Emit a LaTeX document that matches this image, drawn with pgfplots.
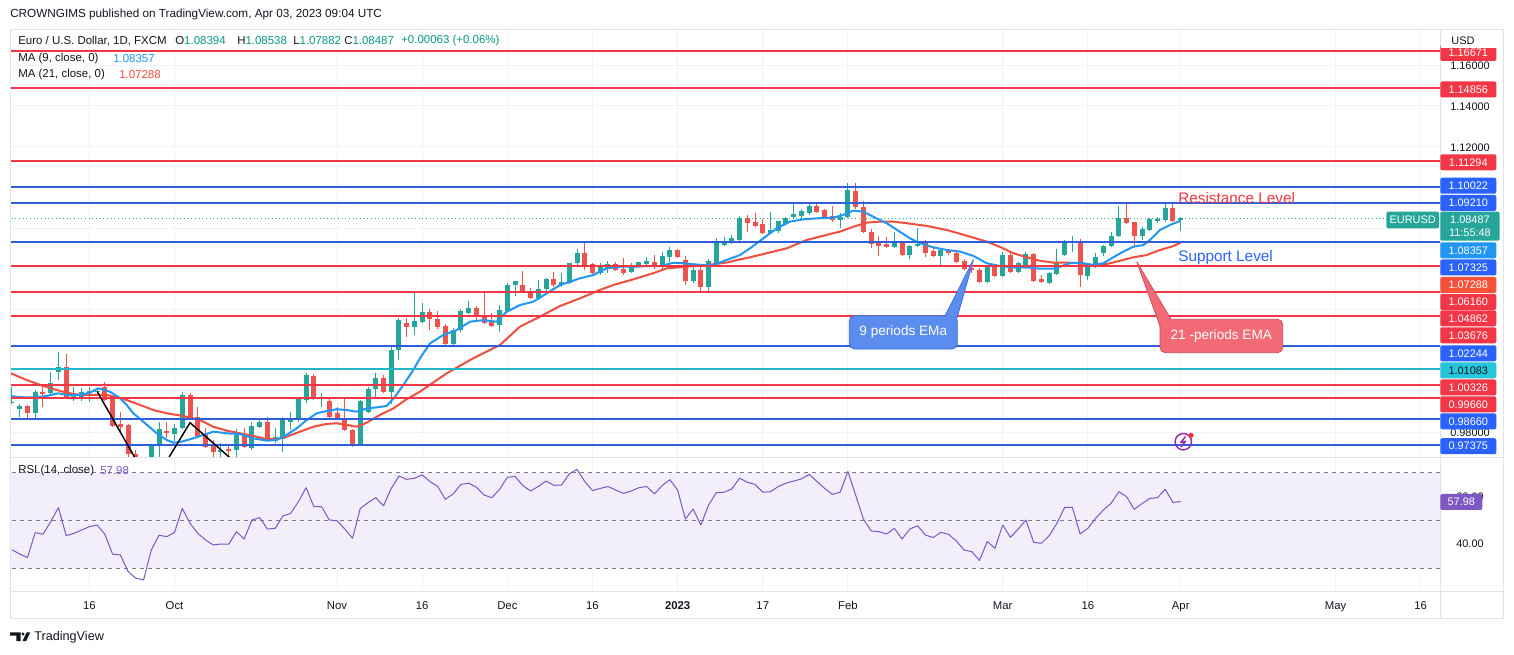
\documentclass[border=0pt]{standalone}
\usepackage{fontspec}
\setmainfont{Liberation Sans}
\usepackage{pgfplots}
\usepackage{pgfplotstable}
\pgfplotsset{compat=1.18}
\definecolor{tvgreen}{RGB}{38,166,154}
\definecolor{tvred}{RGB}{239,83,80}
\definecolor{lred}{RGB}{242,54,69}
\definecolor{lblue}{RGB}{47,95,215}
\definecolor{lcyan}{RGB}{34,184,200}
\definecolor{ma9}{RGB}{33,150,243}
\definecolor{ma21}{RGB}{242,78,62}
\definecolor{ma21box}{RGB}{244,81,56}
\definecolor{rsic}{RGB}{126,87,194}
\definecolor{rsiband}{RGB}{242,238,250}
\definecolor{gridc}{RGB}{240,243,250}
\definecolor{framec}{RGB}{224,227,235}
\definecolor{txt}{RGB}{19,23,34}
\definecolor{boxblue}{RGB}{41,98,255}
\definecolor{boxcyan}{RGB}{38,198,218}
\definecolor{tvteal}{RGB}{8,153,129}
\definecolor{calblue}{RGB}{91,141,239}
\definecolor{calbluebd}{RGB}{56,106,225}
\definecolor{calred}{RGB}{241,106,118}
\definecolor{calredbd}{RGB}{205,75,90}
\definecolor{dashc}{RGB}{120,123,134}
\definecolor{boltc}{RGB}{156,39,176}

\pgfplotstableread{
i o h l c
0 0.9941 1.0022 0.9938 0.9947
1 0.9913 0.9938 0.9875 0.9924
3 0.9895 1.0006 0.9867 0.9995
5 0.9991 1.0096 0.9982 1.0039
6 1.0096 1.0194 1.0055 1.0118
8 0.9962 1.0020 0.9954 0.9982
9 0.9974 1.0015 0.9954 0.9993
10 0.9991 1.0020 0.9945 1.0001
11 0.9994 1.0015 0.9986 0.9998
18 0.9593 0.9737 0.9536 0.9736
19 0.9736 0.9847 0.9650 0.9813
21 0.9790 0.9840 0.9755 0.9818
22 0.9818 0.9998 0.9813 0.9982
27 0.9700 0.9748 0.9670 0.9710
29 0.9711 0.9813 0.9650 0.9788
31 0.9721 0.9851 0.9712 0.9830
32 0.9826 0.9867 0.9818 0.9846
34 0.9761 0.9822 0.9745 0.9776
35 0.9767 0.9875 0.9704 0.9863
36 0.9849 0.9900 0.9810 0.9866
37 0.9859 0.9974 0.9851 0.9966
38 0.9957 1.0088 0.9941 1.0076
40 0.9961 0.9990 0.9925 0.9966
45 0.9737 0.9957 0.9733 0.9949
46 0.9900 1.0022 0.9892 1.0010
47 1.0010 1.0088 0.9966 1.0064
49 0.9998 1.0219 0.9938 1.0202
50 1.0202 1.0357 1.0153 1.0349
52 1.0317 1.0480 1.0276 1.0345
53 1.0341 1.0431 1.0333 1.0385
57 1.0232 1.0309 1.0225 1.0300
58 1.0300 1.0402 1.0292 1.0390
59 1.0386 1.0444 1.0383 1.0407
63 1.0325 1.0423 1.0292 1.0399
64 1.0395 1.0533 1.0390 1.0521
65 1.0521 1.0540 1.0467 1.0537
68 1.0456 1.0546 1.0448 1.0500
69 1.0500 1.0554 1.0489 1.0549
71 1.0521 1.0578 1.0513 1.0532
72 1.0529 1.0631 1.0526 1.0628
73 1.0628 1.0696 1.0611 1.0677
76 1.0578 1.0631 1.0571 1.0606
77 1.0599 1.0641 1.0578 1.0620
80 1.0583 1.0631 1.0578 1.0611
81 1.0611 1.0636 1.0608 1.0631
82 1.0624 1.0660 1.0620 1.0636
84 1.0611 1.0685 1.0602 1.0660
85 1.0657 1.0706 1.0636 1.0693
88 1.0540 1.0620 1.0530 1.0595
90 1.0513 1.0647 1.0489 1.0636
91 1.0627 1.0750 1.0620 1.0728
92 1.0716 1.0758 1.0712 1.0734
93 1.0729 1.0767 1.0725 1.0750
94 1.0742 1.0860 1.0734 1.0848
98 1.0775 1.0880 1.0771 1.0791
99 1.0787 1.0836 1.0775 1.0832
100 1.0820 1.0856 1.0816 1.0848
101 1.0856 1.0922 1.0848 1.0865
102 1.0859 1.0892 1.0840 1.0881
103 1.0873 1.0922 1.0865 1.0909
107 1.0839 1.0873 1.0799 1.0852
108 1.0853 1.1023 1.0848 1.0984
114 1.0706 1.0783 1.0701 1.0734
116 1.0669 1.0718 1.0647 1.0712
117 1.0712 1.0799 1.0706 1.0722
120 1.0664 1.0693 1.0615 1.0690
126 1.0537 1.0614 1.0529 1.0608
128 1.0565 1.0685 1.0559 1.0664
130 1.0587 1.0636 1.0578 1.0628
131 1.0620 1.0685 1.0602 1.0673
134 1.0532 1.0587 1.0529 1.0578
135 1.0575 1.0696 1.0571 1.0631
136 1.0669 1.0742 1.0664 1.0729
137 1.0729 1.0761 1.0681 1.0736
139 1.0565 1.0614 1.0546 1.0608
140 1.0608 1.0680 1.0603 1.0657
141 1.0677 1.0718 1.0664 1.0712
142 1.0712 1.0783 1.0709 1.0761
143 1.0761 1.0909 1.0758 1.0848
146 1.0761 1.0804 1.0742 1.0794
147 1.0791 1.0848 1.0788 1.0843
148 1.0836 1.0856 1.0824 1.0843
149 1.0840 1.0919 1.0832 1.0897
151 1.08394 1.08538 1.07882 1.08487
}\greentab

\pgfplotstableread{
i o h l c
2 0.9924 0.9933 0.9863 0.9895
4 0.9995 1.0020 0.9924 0.9987
7 1.0118 1.0183 0.9960 0.9966
12 1.0020 1.0047 0.9952 0.9957
13 0.9966 0.9974 0.9826 0.9831
14 0.9838 0.9900 0.9802 0.9826
15 0.9831 0.9840 0.9670 0.9690
16 0.9690 0.9710 0.9535 0.9607
17 0.9607 0.9670 0.9590 0.9593
20 0.9805 0.9851 0.9770 0.9794
23 0.9982 0.9990 0.9867 0.9873
24 0.9873 0.9921 0.9776 0.9781
25 0.9786 0.9818 0.9720 0.9728
26 0.9737 0.9760 0.9670 0.9700
28 0.9716 0.9741 0.9670 0.9706
30 0.9788 0.9821 0.9723 0.9728
33 0.9846 0.9875 0.9757 0.9761
39 1.0071 1.0085 0.9957 0.9961
41 0.9950 0.9960 0.9867 0.9873
42 0.9892 0.9924 0.9859 0.9867
43 0.9867 0.9970 0.9806 0.9810
44 0.9810 0.9813 0.9728 0.9733
48 1.0064 1.0080 0.9990 0.9998
51 1.0333 1.0357 1.0267 1.0317
54 1.0385 1.0402 1.0300 1.0353
55 1.0353 1.0395 1.0305 1.0314
56 1.0320 1.0330 1.0222 1.0232
60 1.0407 1.0418 1.0349 1.0374
61 1.0365 1.0488 1.0330 1.0333
62 1.0341 1.0385 1.0317 1.0320
66 1.0521 1.0591 1.0480 1.0484
67 1.0484 1.0505 1.0451 1.0456
70 1.0549 1.0587 1.0513 1.0521
74 1.0677 1.0729 1.0595 1.0620
75 1.0622 1.0631 1.0575 1.0578
78 1.0620 1.0636 1.0591 1.0595
79 1.0598 1.0652 1.0571 1.0578
83 1.0631 1.0668 1.0602 1.0608
86 1.0690 1.0696 1.0652 1.0657
87 1.0640 1.0664 1.0521 1.0540
89 1.0595 1.0617 1.0489 1.0513
95 1.0848 1.0865 1.0783 1.0824
96 1.0827 1.0873 1.0804 1.0811
97 1.0816 1.0843 1.0771 1.0775
104 1.0909 1.0922 1.0876 1.0881
105 1.0886 1.0892 1.0848 1.0856
106 1.0859 1.0909 1.0832 1.0840
109 1.0979 1.1023 1.0892 1.0902
110 1.0902 1.0935 1.0778 1.0783
111 1.0778 1.0794 1.0701 1.0722
112 1.0728 1.0761 1.0664 1.0712
113 1.0718 1.0758 1.0701 1.0706
115 1.0729 1.0734 1.0664 1.0669
118 1.0734 1.0742 1.0657 1.0680
119 1.0685 1.0712 1.0657 1.0664
121 1.0685 1.0693 1.0669 1.0677
122 1.0677 1.0693 1.0631 1.0636
123 1.0636 1.0647 1.0595 1.0598
124 1.0603 1.0620 1.0578 1.0595
125 1.0591 1.0603 1.0532 1.0537
127 1.0611 1.0620 1.0559 1.0565
129 1.0664 1.0685 1.0578 1.0587
132 1.0673 1.0677 1.0537 1.0542
133 1.0549 1.0571 1.0529 1.0537
138 1.0733 1.0745 1.0513 1.0568
144 1.0848 1.0919 1.0820 1.0824
145 1.0827 1.0832 1.0712 1.0760
150 1.0897 1.0919 1.0832 1.0836
}\redtab

\pgfplotstableread{
x y
-0.26 0.9977
1.03 0.9971
2.75 0.9970
4.48 0.9977
5.98 0.9990
7.07 0.9982
8.79 0.9982
10.08 0.9993
11.15 1.0015
12.66 0.9998
13.95 0.9966
14.82 0.9933
15.67 0.9892
16.96 0.9851
18.70 0.9794
19.99 0.9761
20.84 0.9748
21.92 0.9753
23.42 0.9769
24.72 0.9786
26.01 0.9802
27.74 0.9794
29.46 0.9790
31.18 0.9769
32.91 0.9758
34.20 0.9761
35.49 0.9786
36.78 0.9818
38.07 0.9859
39.37 0.9892
40.66 0.9903
41.95 0.9912
43.24 0.9908
44.53 0.9900
45.83 0.9916
47.12 0.9921
48.41 0.9928
49.48 0.9973
50.56 1.0031
51.85 1.0104
52.71 1.0162
54.01 1.0235
55.72 1.0276
57.45 1.0300
59.17 1.0341
60.89 1.0349
62.62 1.0341
63.91 1.0390
65.63 1.0423
67.35 1.0439
69.08 1.0480
70.80 1.0521
72.09 1.0537
73.39 1.0554
75.10 1.0570
76.83 1.0603
78.55 1.0611
80.27 1.0611
82.00 1.0614
83.72 1.0614
85.44 1.0630
86.73 1.0628
88.02 1.0623
89.32 1.0619
90.61 1.0619
92.34 1.0644
94.06 1.0668
95.35 1.0701
97.07 1.0750
98.80 1.0799
100.52 1.0832
102.24 1.0843
103.97 1.0848
106.11 1.0851
107.40 1.0865
108.70 1.0886
109.99 1.0881
111.28 1.0856
113.01 1.0824
114.73 1.0782
116.02 1.0750
117.31 1.0726
119.03 1.0706
120.76 1.0693
122.48 1.0685
124.20 1.0664
125.93 1.0628
127.65 1.0614
129.37 1.0608
131.10 1.0608
132.82 1.0601
134.53 1.0601
135.40 1.0611
136.69 1.0628
137.98 1.0631
139.70 1.0619
141.00 1.0628
142.29 1.0657
143.58 1.0685
144.87 1.0709
146.16 1.0717
147.03 1.0742
148.32 1.0791
149.61 1.0816
151.00 1.0836
}\manine

\pgfplotstableread{
x y
-0.26 1.0090
1.90 1.0055
4.04 1.0026
5.78 1.0006
7.07 0.9993
8.79 0.9982
10.50 0.9982
12.24 0.9982
13.53 0.9970
14.82 0.9957
16.54 0.9933
18.26 0.9908
19.99 0.9892
21.28 0.9884
22.57 0.9875
24.29 0.9859
26.01 0.9826
27.74 0.9807
29.46 0.9794
31.18 0.9781
32.91 0.9765
34.20 0.9765
35.49 0.9777
37.21 0.9802
38.93 0.9826
40.66 0.9840
41.95 0.9843
43.24 0.9835
44.53 0.9826
45.83 0.9846
47.55 0.9884
49.26 0.9916
50.99 0.9961
52.71 0.9998
56.16 1.0088
59.60 1.0162
63.05 1.0227
65.63 1.0317
68.22 1.0366
70.80 1.0418
73.39 1.0456
75.97 1.0497
77.69 1.0521
80.27 1.0549
82.86 1.0579
84.59 1.0603
87.17 1.0611
89.75 1.0619
92.34 1.0631
94.06 1.0647
95.35 1.0657
97.51 1.0677
100.09 1.0701
102.67 1.0742
105.26 1.0767
106.98 1.0783
108.70 1.0807
110.43 1.0827
112.14 1.0832
113.86 1.0832
115.59 1.0824
118.18 1.0811
120.76 1.0791
123.35 1.0763
125.93 1.0734
127.65 1.0708
129.37 1.0677
131.10 1.0657
132.82 1.0640
134.53 1.0631
136.26 1.0631
137.98 1.0628
139.70 1.0619
141.43 1.0624
143.15 1.0640
144.87 1.0657
146.60 1.0668
148.32 1.0693
150.04 1.0712
151.00 1.0729
}\matwentyone

\pgfplotstableread{
i r
0 37.6
1 35.9
2 34.4
3 44.9
4 44.2
5 49.5
6 55.4
7 43.6
8 44.6
9 46.0
10 47.4
11 48.1
12 44.2
13 35.8
14 35.5
15 28.5
16 25.7
17 25.0
18 37.6
19 43.8
20 43.2
21 45.0
22 55.1
23 48.8
24 44.6
25 41.8
26 39.7
27 40.1
28 40.0
29 45.3
30 42.2
31 50.2
32 51.2
33 46.4
34 46.7
35 51.9
36 53.0
37 57.9
38 63.8
39 55.8
40 55.8
41 50.2
42 49.9
43 46.4
44 42.5
45 55.1
46 57.5
47 59.6
48 56.2
49 63.5
50 68.7
51 67.3
52 67.8
53 69.2
54 66.4
55 64.3
56 58.9
57 61.2
58 65.2
59 65.7
60 64.0
61 60.7
62 59.6
63 63.1
64 68.2
65 68.5
66 64.7
67 62.4
68 64.3
69 66.6
70 64.8
71 64.9
72 69.6
73 71.5
74 66.4
75 62.6
76 63.5
77 64.3
78 62.8
79 61.4
80 62.4
81 63.8
82 64.3
83 61.2
84 64.7
85 67.2
86 62.8
87 50.6
88 54.8
89 48.1
90 56.5
91 61.7
92 61.9
93 63.3
94 67.8
95 66.1
96 65.2
97 61.9
98 62.1
99 64.3
100 65.7
101 66.6
102 67.5
103 69.4
104 66.4
105 63.5
106 61.0
107 61.9
108 70.6
109 60.7
110 50.6
111 45.6
112 45.3
113 44.3
114 46.7
115 42.2
116 46.4
117 47.8
118 43.9
119 42.8
120 45.0
121 44.2
122 41.4
123 37.6
124 36.9
125 33.2
126 41.1
127 38.3
128 48.1
129 42.9
130 46.4
131 50.2
132 40.8
133 40.4
134 43.6
135 48.8
136 55.5
137 55.5
138 44.3
139 46.7
140 50.9
141 54.4
142 57.2
143 62.1
144 60.0
145 54.7
146 57.1
147 59.3
148 59.6
149 63.1
150 57.6
151 57.98
}\rsitab

\pgfplotsset{
  tvbase/.style={anchor=north west, scale only axis, width=1072.5pt,
    xmin=-0.258, xmax=184.5,
    axis line style={draw=none}, tick style={draw=none}, major tick length=0pt,
    xtick={10,21,42,53,64,75,86,97,108,128,139,151,171,182}},
  candle/.style={only marks, mark options={draw=none, fill=none}, mark size=0pt, forget plot},
}
\newcommand\plab[4]{\node[fill=#3, text=#4, rounded corners=1.5pt, inner sep=0pt,
  minimum width=42pt, minimum height=12pt, anchor=west,
  font=\fontsize{8.2}{9}\selectfont] at (1440,#1) {#2};}
\newcommand\stxt[2]{\node[text=txt, inner sep=0pt, font=\fontsize{8.2}{9}\selectfont] at (1470,#1) {#2};}

\begin{document}
\begin{tikzpicture}
\useasboundingbox (0,0) rectangle (1135.5pt,-491.25pt);
\fill[white] (0,0) rectangle (1135.5pt,-491.25pt);

% ---------------- price panel ----------------
\begin{axis}[tvbase, at={(7.5pt,-22.5pt)}, height=320.25pt,
  ymin=0.96777, ymax=1.17717,
  ytick={0.98,1.00,1.02,1.04,1.06,1.08,1.10,1.12,1.14,1.16},
  xticklabels={}, yticklabels={},
  xmajorgrids, ymajorgrids, grid style={draw=gridc, line width=0.75pt}]
% wicks
\addplot[candle,
  error bars/.cd, y dir=both, y explicit, error mark=none,
  error bar style={draw=tvgreen, line width=0.75pt}]
  table[x=i, y=o, y error plus expr=\thisrow{h}-\thisrow{o}, y error minus expr=\thisrow{o}-\thisrow{l}] {\greentab};
\addplot[candle,
  error bars/.cd, y dir=both, y explicit, error mark=none,
  error bar style={draw=tvred, line width=0.75pt}]
  table[x=i, y=o, y error plus expr=\thisrow{h}-\thisrow{o}, y error minus expr=\thisrow{o}-\thisrow{l}] {\redtab};
% bodies
\addplot[candle,
  error bars/.cd, y dir=plus, y explicit, error mark=none,
  error bar style={draw=tvgreen, line width=3.75pt}]
  table[x=i, y=o, y error plus expr=\thisrow{c}-\thisrow{o}+0.0002] {\greentab};
\addplot[candle,
  error bars/.cd, y dir=plus, y explicit, error mark=none,
  error bar style={draw=tvred, line width=3.75pt}]
  table[x=i, y=c, y error plus expr=\thisrow{o}-\thisrow{c}+0.0002] {\redtab};
% moving averages
\addplot[ma21, line width=1.5pt, mark=none, line join=round] table[x=x, y=y] {\matwentyone};
\addplot[ma9, line width=1.5pt, mark=none, line join=round] table[x=x, y=y] {\manine};
% horizontal levels
\pgfplotsinvokeforeach{1.16671,1.14856,1.11294,1.06160,1.04862,1.03676,1.00326,0.99660}{
  \addplot[lred, line width=1.5pt, mark=none] coordinates {(-1,#1) (190,#1)};}
\pgfplotsinvokeforeach{1.10022,1.09210,1.07325,1.02244,0.98660,0.97375}{
  \addplot[lblue, line width=1.5pt, mark=none] coordinates {(-1,#1) (190,#1)};}
\addplot[lcyan, line width=1.5pt, mark=none] coordinates {(-1,1.01083) (190,1.01083)};
% last price line
\addplot[tvgreen, line width=0.75pt, dash pattern=on 0.75pt off 2pt, mark=none] coordinates {(-1,1.08487) (190,1.08487)};
% drawn zig-zag
\addplot[black, line width=1.1pt, mark=none] coordinates {(11.02,0.9998) (18,0.9533) (23,0.9846) (29,0.9646)};
\end{axis}

% ---------------- RSI panel ----------------
\begin{axis}[tvbase, at={(7.5pt,-343.5pt)}, height=100.5pt,
  ymin=19.9, ymax=76.3, ytick=\empty,
  xticklabels={16,Oct,Nov,16,Dec,16,\textbf{2023},17,Feb,Mar,16,Apr,May,16},
  xticklabel style={font=\fontsize{8.5}{10}\selectfont, text=txt, inner sep=0pt,
    anchor=north, yshift=-6.7pt, text height=6.2pt, text depth=0pt}]
\addplot[draw=none, fill=rsiband, forget plot] coordinates {(-1,30) (190,30) (190,70) (-1,70)};
\pgfplotsinvokeforeach{10,21,42,53,64,75,86,97,108,128,139,151,171,182}{
  \addplot[gridc, line width=0.75pt, mark=none, forget plot] coordinates {(#1,0) (#1,100)};}
\addplot[gridc, line width=0.75pt, mark=none] coordinates {(-1,40) (190,40)};
\addplot[gridc, line width=0.75pt, mark=none] coordinates {(-1,60) (190,60)};
\pgfplotsinvokeforeach{30,50,70}{
  \addplot[dashc, line width=0.75pt, dash pattern=on 3pt off 3pt, mark=none] coordinates {(-1,#1) (190,#1)};}
\addplot[rsic, line width=0.75pt, mark=none, line join=round] table[x=i, y=r] {\rsitab};
\end{axis}

% ---------------- overlay (pixel coordinates) ----------------
\begin{scope}[x=0.75pt, y=-0.75pt]
\draw[framec, line width=0.75pt] (10,30) rectangle (1503,618);
\draw[framec, line width=0.75pt] (1440,30) -- (1440,618);
\draw[framec, line width=0.75pt] (10,457.5) -- (1503,457.5);
\draw[framec, line width=0.75pt] (10,592) -- (1503,592);

% header
\node[anchor=west, inner sep=0pt, text=txt, font=\fontsize{8.8}{11}\selectfont] at (10,14)
  {CROWNGIMS published on TradingView.com, Apr 03, 2023 09:04 UTC};

% legend
\begin{scope}[every node/.style={anchor=west, inner sep=0pt, text=txt, font=\fontsize{8.6}{11}\selectfont}]
\node at (18,41) {Euro / U.S. Dollar, 1D, FXCM};
\node at (175,41) {O\textcolor{tvteal}{1.08394}};
\node at (237,41) {H\textcolor{tvteal}{1.08538}};
\node at (293,41) {L\textcolor{tvteal}{1.07882}};
\node at (344,41) {C\textcolor{tvteal}{1.08487}};
\node at (401,41) {\textcolor{tvteal}{+0.00063 (+0.06\%)}};
\node at (18,59) {MA (9, close, 0)};
\node at (113,59) {\textcolor{ma9}{1.08357}};
\node at (18,75) {MA (21, close, 0)};
\node at (119,75) {\textcolor{ma21}{1.07288}};
\node at (18,471) {RSI (14, close)};
\node at (100,471) {\textcolor{rsic}{57.98}};
\end{scope}

% price scale
\stxt{432.7}{0.98000}
\plab{53}{1.16671}{lred}{white}
\fill[white] (1440.5,30.5) rectangle (1502.5,48.5);
\node[text=txt, inner sep=0pt, font=\fontsize{8.2}{9}\selectfont] at (1463,41) {USD};
\stxt{65.5}{1.16000}
\stxt{107}{1.14000}
\stxt{147.3}{1.12000}
\plab{89.5}{1.14856}{lred}{white}
\plab{162.3}{1.11294}{lred}{white}
\plab{185.7}{1.10022}{boxblue}{white}
\plab{203}{1.09210}{boxblue}{white}
\node[fill=tvgreen, text=white, rounded corners=1.5pt, inner sep=0pt, minimum width=44.5pt,
  minimum height=21.75pt, anchor=west, align=center, font=\fontsize{8.2}{9.6}\selectfont]
  at (1440,226.2) {1.08487\\11:55:48};
\plab{250.3}{1.08357}{ma9}{white}
\plab{267.5}{1.07325}{boxblue}{white}
\plab{285}{1.07288}{ma21box}{white}
\plab{302}{1.06160}{lred}{white}
\plab{318.3}{1.04862}{lred}{white}
\plab{335.3}{1.03676}{lred}{white}
\plab{353.3}{1.02244}{boxblue}{white}
\plab{370.3}{1.01083}{boxcyan}{txt}
\plab{387.5}{1.00326}{lred}{white}
\plab{404.3}{0.99660}{lred}{white}
\plab{421.3}{0.98660}{boxblue}{white}
\plab{446.2}{0.97375}{boxblue}{white}
\node[fill=tvgreen, text=white, rounded corners=1.5pt, inner sep=0pt, minimum width=39.5pt,
  minimum height=12.5pt, anchor=east, font=\fontsize{8.2}{9}\selectfont] at (1439.3,220) {EURUSD};

% RSI scale
\stxt{497}{60.00}
\node[fill=rsic, text=white, rounded corners=1.5pt, inner sep=0pt, minimum width=31.5pt,
  minimum height=12pt, anchor=west, font=\fontsize{8.2}{9}\selectfont] at (1440,502) {57.98};
\stxt{544}{40.00}

% annotations
\node[anchor=west, inner sep=0pt, text=lred, font=\fontsize{11.5}{13}\selectfont] at (1178,198) {Resistance Level};
\node[anchor=west, inner sep=0pt, text=boxblue, font=\fontsize{11.5}{13}\selectfont] at (1178,258) {Support Level};

\draw[fill=calblue, draw=calbluebd, line width=0.6pt] (944,318) -- (973.5,259.5) -- (957,318);
\draw[fill=calblue, draw=calbluebd, line width=0.6pt, rounded corners=4pt] (849.3,315.7) rectangle (957.3,349);
\fill[calblue] (945.5,317.2) -- (972.5,262) -- (955.8,317.2) -- cycle;
\node[text=white, inner sep=0pt, font=\fontsize{10.2}{12}\selectfont] at (903.3,332.3) {9 periods EMa};

\draw[fill=calred, draw=calredbd, line width=0.6pt] (1160,326) -- (1136.7,261.7) -- (1171,319.3);
\draw[fill=calred, draw=calredbd, line width=0.6pt, rounded corners=4pt] (1160,319.3) rectangle (1282.7,352.7);
\fill[calred] (1160.8,325) -- (1138.5,265) -- (1169.5,320.1) -- cycle;
\node[text=white, inner sep=0pt, font=\fontsize{10.2}{12}\selectfont] at (1221.3,336) {21 -periods EMA};

% event icon
\draw[boltc, line width=1.1pt] (1183.3,441.7) circle[radius=8.2];
\draw[boltc, line width=1.1pt, line join=round] (1185.5,436.5) -- (1180.8,442.5) -- (1185.6,441.2) -- (1181,447);
\fill[lred] (1191,435.3) circle[radius=2.6];

% footer
\fill[txt] (10,632.3) -- (20.5,632.3) -- (20.5,641) -- (16.3,641) -- (16.3,635.7) -- (10,635.7) -- cycle;
\fill[txt] (23,634) circle[radius=1.7];
\fill[txt] (22.5,641) -- (26.6,632.3) -- (30.3,632.3) -- (26.2,641) -- cycle;
\node[anchor=west, inner sep=0pt, text=txt, font=\fontsize{9.5}{11}\selectfont] at (34,637) {TradingView};
\end{scope}
\end{tikzpicture}
\end{document}
